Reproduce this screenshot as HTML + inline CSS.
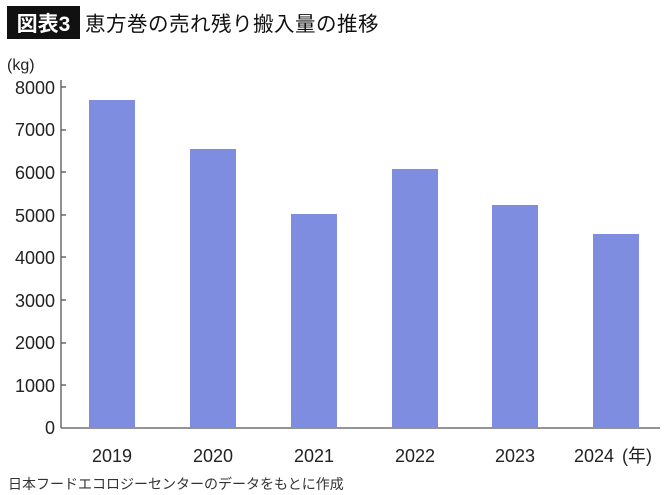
<!DOCTYPE html>
<html><head><meta charset="utf-8"><style>
body{margin:0;background:#fff;}
svg{display:block;}
</style></head><body>
<svg width="670" height="495" xmlns="http://www.w3.org/2000/svg" font-family="'Liberation Sans','Noto Sans CJK JP',sans-serif">
<rect x="7" y="6" width="73" height="33" fill="#111"/>
<text x="43.5" y="31" fill="#fff" font-size="21" font-weight="bold" text-anchor="middle">図表3</text>
<text x="85" y="31" fill="#111" font-size="20.5" letter-spacing="0.5">恵方巻の売れ残り搬入量の推移</text>
<text x="7" y="70" fill="#222" font-size="16">(kg)</text>
<g font-size="18" fill="#222" text-anchor="end">
<text x="55" y="94">8000</text>
<text x="55" y="136">7000</text>
<text x="55" y="179">6000</text>
<text x="55" y="222">5000</text>
<text x="55" y="264">4000</text>
<text x="55" y="307">3000</text>
<text x="55" y="349">2000</text>
<text x="55" y="392">1000</text>
<text x="55" y="434">0</text>
</g>
<g stroke="#555" stroke-width="1.3">
<line x1="61" y1="80" x2="61" y2="428"/>
<line x1="61" y1="428" x2="660" y2="428"/>
<line x1="61" y1="87" x2="66" y2="87"/><line x1="61" y1="130" x2="66" y2="130"/>
<line x1="61" y1="172" x2="66" y2="172"/><line x1="61" y1="215" x2="66" y2="215"/>
<line x1="61" y1="257" x2="66" y2="257"/><line x1="61" y1="300" x2="66" y2="300"/>
<line x1="61" y1="343" x2="66" y2="343"/><line x1="61" y1="385" x2="66" y2="385"/>
</g>
<g fill="#7f8de0">
<rect x="89" y="100" width="46" height="328"/>
<rect x="190" y="149" width="46" height="279"/>
<rect x="291" y="214" width="46" height="214"/>
<rect x="392" y="169" width="46" height="259"/>
<rect x="492" y="205" width="46" height="223"/>
<rect x="593" y="234" width="46" height="194"/>
</g>
<g font-size="18" fill="#222" text-anchor="middle">
<text x="112" y="462">2019</text>
<text x="213" y="462">2020</text>
<text x="314" y="462">2021</text>
<text x="415" y="462">2022</text>
<text x="515" y="462">2023</text>
<text x="594" y="462">2024</text>
</g>
<text x="622" y="462" font-size="18" fill="#222">(年)</text>
<text x="8" y="489" font-size="14" fill="#333">日本フードエコロジーセンターのデータをもとに作成</text>
</svg>
</body></html>
